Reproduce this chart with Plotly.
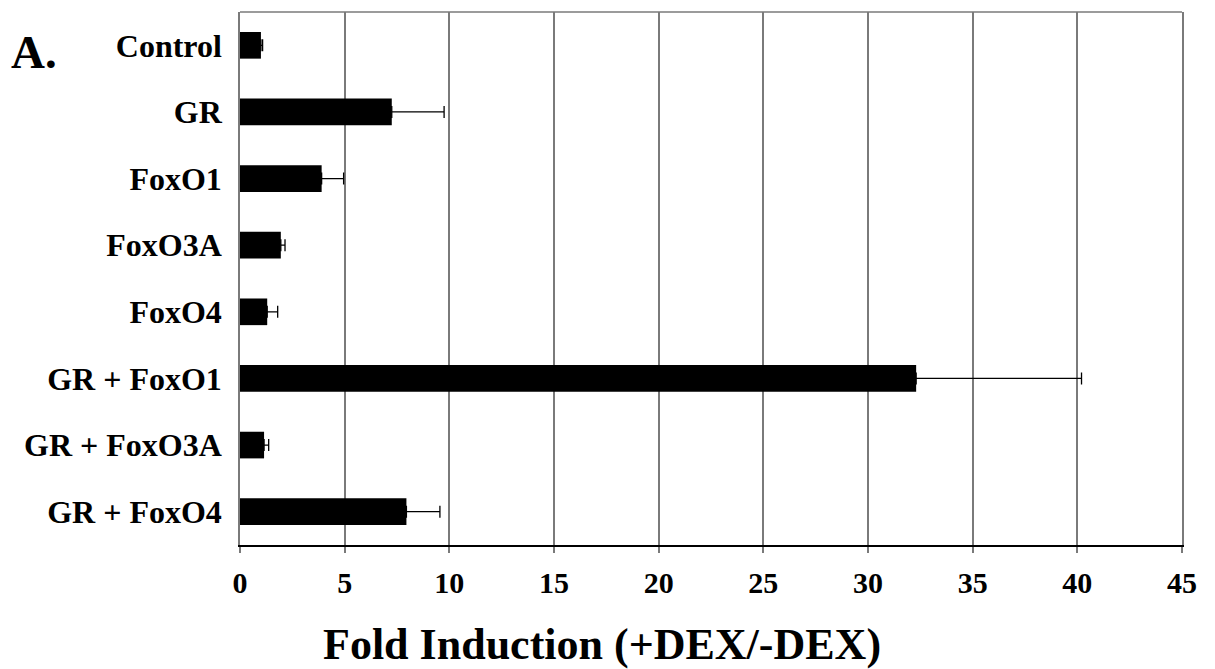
import plotly.graph_objects as go

categories = ["Control", "GR", "FoxO1", "FoxO3A", "FoxO4", "GR + FoxO1", "GR + FoxO3A", "GR + FoxO4"]
values = [1.0, 7.25, 3.9, 1.95, 1.3, 32.3, 1.15, 7.95]
errors = [0.08, 2.5, 1.05, 0.2, 0.5, 7.9, 0.22, 1.6]
x_ticks = [0, 5, 10, 15, 20, 25, 30, 35, 40, 45]

FONT = "Liberation Serif, Times New Roman, Times, serif"
GRID = "#7a7a7a"

fig = go.Figure()
fig.add_trace(go.Bar(
    y=categories, x=values, orientation="h", width=0.4,
    marker=dict(color="black", line=dict(width=0)),
    error_x=dict(type="data", array=errors, visible=True, symmetric=False,
                 arrayminus=[0] * len(errors),
                 color="black", thickness=1.3, width=6),
    showlegend=False,
))

fig.update_layout(
    width=1207, height=661,
    margin=dict(l=232, r=33, t=4, b=124),
    plot_bgcolor="white", paper_bgcolor="white",
    font=dict(family=FONT, color="black"),
    bargap=0.6,
    xaxis=dict(
        range=[0, 45], tickvals=x_ticks, ticktext=[str(v) for v in x_ticks],
        showgrid=True, gridcolor=GRID, gridwidth=1.5,
        showline=True, linecolor="black", linewidth=1.5,
        ticks="outside", ticklen=6, tickcolor=GRID, tickwidth=1.5,
        ticklabelstandoff=4,
        tickfont=dict(family=FONT, size=30, color="black", weight="bold"),
        zeroline=False, fixedrange=True,
    ),
    yaxis=dict(
        autorange="reversed", showgrid=False,
        showline=True, linecolor=GRID, linewidth=1.5, mirror=True,
        ticks="", ticklabelstandoff=10,
        tickfont=dict(family=FONT, size=32, color="black", weight="bold"),
        fixedrange=True,
    ),
    shapes=[dict(type="line", xref="paper", yref="paper", x0=0, x1=1, y0=1, y1=1,
                 line=dict(color=GRID, width=1.5))],
    annotations=[
        dict(text="<b>A.</b>", xref="paper", yref="paper", x=-0.2455, y=0.925,
             xanchor="left", yanchor="middle", showarrow=False,
             font=dict(family=FONT, size=47, color="black")),
        dict(text="<b>Fold Induction (+DEX/-DEX)</b>", xref="paper", yref="paper",
             x=0.384, y=-0.187, xanchor="center", yanchor="middle", showarrow=False,
             font=dict(family=FONT, size=44, color="black")),
    ],
)

fig.write_html("out.html")
